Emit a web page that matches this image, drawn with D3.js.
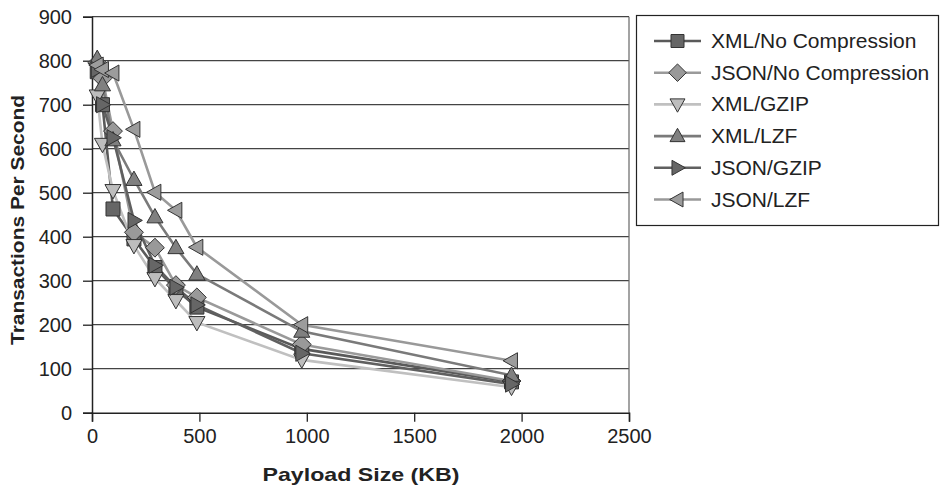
<!DOCTYPE html>
<html><head><meta charset="utf-8">
<script src="https://cdn.jsdelivr.net/npm/d3@7"></script>
<style>body{margin:0;background:#fff}svg{display:block}text{font-family:"Liberation Sans",Arial,sans-serif}</style>
</head><body><svg id="c" width="945" height="489"></svg>
<script>
const payload = [24.4, 48.8, 97.7, 195.3, 293, 390.6, 488.3, 976.6, 1953];
const xTicks = [0, 500, 1000, 1500, 2000, 2500];
const yTicks = [0, 100, 200, 300, 400, 500, 600, 700, 800, 900];
const seriesNames = ["XML/No Compression","JSON/No Compression","XML/GZIP","XML/LZF","JSON/GZIP","JSON/LZF"];
const xmlNone  = [775, 700, 463, 395, 330, 280, 240, 145, 70];
const jsonNone = [795, 760, 640, 410, 375, 290, 262, 155, 72];
const xmlGzip  = [720, 610, 505, 380, 305, 255, 205, 120, 58];
const xmlLzf   = [805, 745, 620, 530, 445, 375, 315, 185, 85];
const jsonGzip = [780, 700, 625, 437, 335, 285, 245, 135, 65];
const jsonLzf  = [790, 780, 772, 644, 501, 460, 376, 200, 118];
const seriesValues = [xmlNone, jsonNone, xmlGzip, xmlLzf, jsonGzip, jsonLzf];
const lineColors = ["#5a5a5a","#9a9a9a","#c0c0c0","#7a7a7a","#606060","#999999"];
const fillColors = ["#666666","#999999","#bdbdbd","#808080","#666666","#9c9c9c"];
const shapes = ["square","diamond","down","up","right","left"];

const svg = d3.select("#c");
const L = 92, R = 629, T = 16.7, B = 412.7;
const x = d3.scaleLinear().domain([0, 2500]).range([L, R]);
const y = d3.scaleLinear().domain([0, 900]).range([B, T]);

svg.append("g").selectAll("line").data(yTicks.filter(d=>d>0)).join("line")
  .attr("x1", L).attr("x2", R).attr("y1", d=>y(d)).attr("y2", d=>y(d))
  .attr("stroke", "#444").attr("stroke-width", 1.2);
svg.append("line").attr("x1", R).attr("x2", R).attr("y1", T).attr("y2", B).attr("stroke","#666").attr("stroke-width",1.2);

const yAxis = svg.append("g").attr("transform", `translate(${L},0)`)
  .call(d3.axisLeft(y).tickValues(yTicks).tickFormat(d3.format("d")).tickSize(9).tickPadding(11));
const xAxis = svg.append("g").attr("transform", `translate(0,${B})`)
  .call(d3.axisBottom(x).tickValues(xTicks).tickFormat(d3.format("d")).tickSize(9).tickPadding(7));
[yAxis, xAxis].forEach(a => {
  a.select(".domain").attr("stroke", "#222").attr("stroke-width", 1.5);
  a.selectAll(".tick line").attr("stroke", "#222").attr("stroke-width", 1.3);
  a.selectAll(".tick text").attr("font-size", 20).attr("fill", "#222")
   .style("font-family", '"Liberation Sans",Arial,sans-serif');
});

svg.append("text").attr("transform", "translate(24,220) rotate(-90)")
  .attr("text-anchor","middle").attr("font-size",18).attr("font-weight","bold").attr("fill","#222")
  .attr("textLength", 250).attr("lengthAdjust","spacingAndGlyphs")
  .text("Transactions Per Second");
svg.append("text").attr("x", 361).attr("y", 481)
  .attr("text-anchor","middle").attr("font-size",19).attr("font-weight","bold").attr("fill","#222")
  .attr("textLength", 197).attr("lengthAdjust","spacingAndGlyphs")
  .text("Payload Size (KB)");

function markerPath(shape, s) {
  const h = s / 2;
  switch (shape) {
    case "square": return `M${-h},${-h}H${h}V${h}H${-h}Z`;
    case "diamond": { const d = h * 1.35; return `M0,${-d}L${d},0L0,${d}L${-d},0Z`; }
    case "down": return `M${-h*1.15},${-h*0.85}H${h*1.15}L0,${h*1.2}Z`;
    case "up": return `M${-h*1.15},${h*0.85}H${h*1.15}L0,${-h*1.2}Z`;
    case "right": return `M${-h*0.85},${-h*1.15}V${h*1.15}L${h*1.2},0Z`;
    case "left": return `M${h*0.85},${-h*1.15}V${h*1.15}L${-h*1.2},0Z`;
  }
}

const line = d3.line().x((d,i)=>x(payload[i])).y(d=>y(d));
const plot = svg.append("g");
seriesValues.forEach((vals, s) => {
  plot.append("path").attr("d", line(vals)).attr("fill","none")
    .attr("stroke", lineColors[s]).attr("stroke-width", 2.6);
});
seriesValues.forEach((vals, s) => {
  plot.append("g").selectAll("path").data(vals).join("path")
    .attr("transform", (d,i)=>`translate(${x(payload[i])},${y(d)})`)
    .attr("d", markerPath(shapes[s], 14))
    .attr("fill", fillColors[s]).attr("stroke", "#333").attr("stroke-width", 1);
});

const lg = svg.append("g");
lg.append("rect").attr("x", 636.5).attr("y", 15.5).attr("width", 302).attr("height", 210)
  .attr("fill","#fff").attr("stroke","#222").attr("stroke-width",1.2);
seriesNames.forEach((name, s) => {
  const cy = 41 + s * 31.7;
  lg.append("line").attr("x1", 654).attr("x2", 701).attr("y1", cy).attr("y2", cy)
    .attr("stroke", lineColors[s]).attr("stroke-width", 2.6);
  lg.append("path").attr("transform", `translate(677.5,${cy})`).attr("d", markerPath(shapes[s], 13))
    .attr("fill", fillColors[s]).attr("stroke", "#333").attr("stroke-width", 1);
  lg.append("text").attr("x", 711).attr("y", cy + 7).attr("font-size", 21).attr("fill","#222").text(name);
});
</script></body></html>
